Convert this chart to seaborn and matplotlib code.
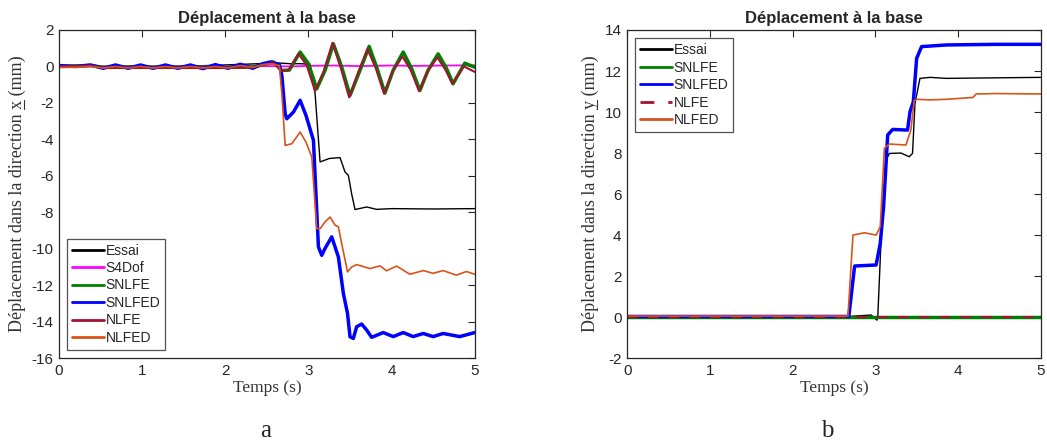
import numpy as np
import pandas as pd
import matplotlib
matplotlib.use('Agg')
import matplotlib.pyplot as plt
from matplotlib.lines import Line2D
import seaborn as sns

# ---- (a) displacement in x direction ----
essai_x_t = [0, 0.3, 0.6, 0.9, 1.2, 1.5, 1.8, 2.1, 2.4, 2.6, 2.78, 2.9, 3.02, 3.08, 3.14, 3.25, 3.38, 3.44, 3.48, 3.52, 3.56, 3.7, 3.82, 4.0, 4.5, 5.0]
essai_x_v = [0, 0.02, -0.02, 0.03, 0.0, 0.02, 0.05, 0.1, 0.15, 0.2, 0.15, 0.15, 0.12, -1.5, -5.24, -5.05, -5.0, -5.79, -5.97, -7.0, -7.85, -7.71, -7.84, -7.8, -7.82, -7.8]

s4dof_x_t = [0, 0.5, 1.0, 1.5, 2.0, 2.5, 2.8, 3.0, 3.3, 3.6, 4.0, 4.3, 4.6, 5.0]
s4dof_x_v = [0, 0.01, -0.01, 0.01, 0.0, 0.02, 0.0, 0.03, 0.05, 0.02, 0.05, 0.03, 0.05, 0.06]

snlfe_x_t = [0, 0.38, 0.53, 0.83, 1.13, 1.43, 1.73, 2.03, 2.33, 2.58, 2.68, 2.77, 2.9, 3.0, 3.1, 3.2, 3.3, 3.4, 3.5, 3.62, 3.73, 3.82, 3.92, 4.02, 4.14, 4.24, 4.34, 4.44, 4.56, 4.66, 4.74, 4.88, 5.0]
snlfe_x_v = [0, 0.05, -0.05, -0.05, -0.05, -0.05, -0.05, -0.05, -0.03, 0.24, -0.22, -0.2, 0.79, 0.15, -1.22, -0.22, 1.24, -0.03, -1.59, -0.22, 1.1, -0.03, -1.46, -0.2, 0.79, -0.1, -1.32, -0.2, 0.69, -0.1, -0.95, 0.18, -0.04]

snlfed_x_t = [0, 0.2, 0.38, 0.53, 0.68, 0.83, 0.98, 1.13, 1.28, 1.43, 1.58, 1.73, 1.88, 2.03, 2.18, 2.33, 2.45, 2.55, 2.65, 2.68, 2.72, 2.74, 2.82, 2.9, 2.97, 3.06, 3.12, 3.16, 3.2, 3.28, 3.36, 3.42, 3.47, 3.5, 3.54, 3.58, 3.64, 3.7, 3.76, 3.9, 4.02, 4.14, 4.26, 4.38, 4.5, 4.62, 4.82, 5.0]
snlfed_x_v = [0.05, 0.0, 0.08, -0.1, 0.08, -0.1, 0.08, -0.1, 0.08, -0.1, 0.08, -0.12, 0.1, -0.1, 0.12, -0.1, 0.15, 0.25, 0.1, -0.5, -2.6, -2.87, -2.5, -1.86, -2.68, -4.05, -9.9, -10.36, -9.98, -9.35, -10.45, -12.45, -13.55, -14.83, -14.92, -14.28, -14.13, -14.46, -14.86, -14.6, -14.82, -14.6, -14.82, -14.65, -14.82, -14.65, -14.82, -14.6]

nlfe_x_t = [0, 0.38, 0.53, 0.83, 1.13, 1.43, 1.73, 2.03, 2.33, 2.58, 2.68, 2.76, 2.88, 2.98, 3.08, 3.18, 3.29, 3.39, 3.49, 3.6, 3.71, 3.81, 3.91, 4.01, 4.13, 4.23, 4.33, 4.43, 4.55, 4.65, 4.73, 4.87, 5.0]
nlfe_x_v = [0, 0.05, -0.08, -0.08, -0.08, -0.08, -0.08, -0.08, -0.05, 0.2, -0.25, -0.2, 0.7, 0.05, -1.35, -0.3, 1.3, -0.1, -1.7, -0.3, 0.95, -0.1, -1.5, -0.3, 0.55, -0.2, -1.35, -0.3, 0.5, -0.2, -0.95, 0.0, -0.3]

nlfed_x_t = [0, 0.2, 0.38, 0.53, 0.68, 0.83, 0.98, 1.13, 1.28, 1.43, 1.58, 1.73, 1.88, 2.03, 2.18, 2.33, 2.45, 2.55, 2.65, 2.68, 2.72, 2.8, 2.9, 2.97, 3.04, 3.1, 3.14, 3.2, 3.26, 3.32, 3.36, 3.4, 3.47, 3.52, 3.58, 3.74, 3.86, 3.94, 4.06, 4.22, 4.38, 4.5, 4.62, 4.78, 4.9, 5.0]
nlfed_x_v = [-0.05, -0.05, 0.0, -0.08, 0.0, -0.08, 0.0, -0.08, 0.0, -0.08, 0.0, -0.08, 0.0, -0.08, 0.05, -0.05, 0.1, 0.15, 0.05, -1.5, -4.33, -4.24, -3.6, -4.15, -4.97, -8.9, -8.9, -8.53, -8.26, -8.71, -8.8, -9.72, -11.27, -11.0, -10.87, -11.09, -10.94, -11.21, -10.95, -11.4, -11.2, -11.35, -11.2, -11.45, -11.25, -11.4]

# ---- (b) displacement in y direction ----
essai_y_t = [0, 1.0, 2.0, 2.6, 2.75, 2.95, 3.02, 3.03, 3.08, 3.13, 3.17, 3.31, 3.41, 3.45, 3.48, 3.54, 3.66, 3.86, 4.3, 5.0]
essai_y_v = [0, 0.0, 0.0, 0.0, 0.05, 0.1, -0.15, 0.0, 4.73, 7.66, 7.98, 8.0, 7.82, 7.98, 10.42, 11.64, 11.69, 11.64, 11.66, 11.69]

snlfe_y_t = [0, 1.0, 2.0, 3.0, 4.0, 5.0]
snlfe_y_v = [0.02, 0.02, 0.02, 0.02, 0.02, 0.02]

snlfed_y_t = [0, 1.0, 2.0, 2.68, 2.75, 3.01, 3.06, 3.1, 3.15, 3.21, 3.39, 3.42, 3.46, 3.5, 3.56, 3.86, 4.46, 5.0]
snlfed_y_v = [0.03, 0.03, 0.03, 0.03, 2.49, 2.54, 3.59, 5.38, 8.88, 9.15, 9.12, 10.02, 10.5, 12.62, 13.19, 13.27, 13.3, 13.3]

nlfe_y_t = [0, 1.0, 2.0, 3.0, 4.0, 5.0]
nlfe_y_v = [0.0, 0.0, 0.0, 0.0, 0.0, 0.0]

nlfed_y_t = [0, 1.0, 2.0, 2.67, 2.73, 2.87, 3.01, 3.06, 3.11, 3.17, 3.37, 3.43, 3.47, 3.5, 3.66, 3.86, 4.18, 4.22, 4.46, 5.0]
nlfed_y_v = [0.05, 0.05, 0.05, 0.05, 4.0, 4.11, 4.0, 4.41, 8.23, 8.44, 8.39, 9.12, 10.55, 10.62, 10.59, 10.62, 10.71, 10.88, 10.9, 10.88]

x_ticks = [0, 1, 2, 3, 4, 5]
ya_ticks = list(range(-16, 3, 2))
yb_ticks = list(range(-2, 15, 2))

title = 'Déplacement à la base'
ylab_prefix = 'Déplacement dans la direction '
serif = ['Liberation Serif', 'DejaVu Serif']

sns.set_style('white')
plt.rcParams['axes.unicode_minus'] = False
plt.rcParams['font.family'] = ['Liberation Sans', 'DejaVu Sans']

fig = plt.figure(figsize=(10.47, 4.41), dpi=100)
ax1 = fig.add_axes([0.0564, 0.188, 0.397, 0.744])
ax2 = fig.add_axes([0.599, 0.188, 0.395, 0.744])

series_a = [
    ('Essai', essai_x_t, essai_x_v, 'black', 1.0, '-'),
    ('S4Dof', s4dof_x_t, s4dof_x_v, '#FF00FF', 1.3, '-'),
    ('SNLFE', snlfe_x_t, snlfe_x_v, '#008000', 2.5, '-'),
    ('SNLFED', snlfed_x_t, snlfed_x_v, '#0000FF', 2.5, '-'),
    ('NLFE', nlfe_x_t, nlfe_x_v, '#A2142F', 1.5, '-'),
    ('NLFED', nlfed_x_t, nlfed_x_v, '#D95319', 1.2, '-'),
]
series_b = [
    ('Essai', essai_y_t, essai_y_v, 'black', 1.0, '-'),
    ('SNLFE', snlfe_y_t, snlfe_y_v, '#008000', 2.5, '-'),
    ('SNLFED', snlfed_y_t, snlfed_y_v, '#0000FF', 2.5, '-'),
    ('NLFE', nlfe_y_t, nlfe_y_v, '#A2142F', 1.5, (0, (5, 5))),
    ('NLFED', nlfed_y_t, nlfed_y_v, '#D95319', 1.2, '-'),
]

for ax, series in [(ax1, series_a), (ax2, series_b)]:
    for name, t, v, c, lw, ls in series:
        sns.lineplot(x=t, y=v, ax=ax, color=c, linewidth=lw, linestyle=ls,
                     label=name, estimator=None, sort=False)

def style_axis(ax, yticks, var, leg_loc, leg_anchor):
    ax.set_xlim(0, 5)
    ax.set_ylim(yticks[0], yticks[-1])
    ax.set_xticks(x_ticks)
    ax.set_yticks(yticks)
    ax.tick_params(direction='in', length=5, width=0.8, top=True, right=True,
                   labelsize=11, colors='#262626', pad=4)
    for s in ax.spines.values():
        s.set_color('#262626')
        s.set_linewidth(0.9)
    ax.set_title(title, fontsize=12, fontweight='bold', pad=5)
    ax.set_xlabel('Temps (s)', family=serif, fontsize=12.5, color='#333333', labelpad=2)
    ax.set_ylabel(ylab_prefix + var + ' (mm)', family=serif, fontsize=13, color='#333333', labelpad=4)
    leg = ax.legend(loc=leg_loc, bbox_to_anchor=leg_anchor, fontsize=10, frameon=True,
                    fancybox=False, edgecolor='#262626', handlelength=2.3,
                    handletextpad=0.1, borderpad=0.35, labelspacing=0.25, borderaxespad=0.6)
    leg.get_frame().set_linewidth(0.9)
    for h in leg.get_lines():
        h.set_linewidth(2.0)

style_axis(ax1, ya_ticks, 'x', 'lower left', (0, 0))
style_axis(ax2, yb_ticks, 'y', 'upper left', (0, 1))

# underline the direction letter in each y label
fig.canvas.draw()
renderer = fig.canvas.get_renderer()
W, H = fig.bbox.width, fig.bbox.height
for ax, var in [(ax1, 'x'), (ax2, 'y')]:
    lab = ax.yaxis.label
    bb = lab.get_window_extent(renderer)
    fp = lab.get_fontproperties()
    w_pre, _, _ = renderer.get_text_width_height_descent(ylab_prefix, fp, ismath=False)
    w_var, _, _ = renderer.get_text_width_height_descent(var, fp, ismath=False)
    _, _, d_full = renderer.get_text_width_height_descent('Dp(', fp, ismath=False)
    y0 = bb.y0 + w_pre
    y1 = y0 + w_var
    xl = bb.x1 - d_full + 2.5
    fig.add_artist(Line2D([xl / W, xl / W], [y0 / H, y1 / H], transform=fig.transFigure,
                          color='#333333', linewidth=0.8))

fig.text(0.254, 0.008, 'a', family=serif, fontsize=18, ha='center')
fig.text(0.79, 0.008, 'b', family=serif, fontsize=18, ha='center')

fig.savefig('out.png', dpi=100)
